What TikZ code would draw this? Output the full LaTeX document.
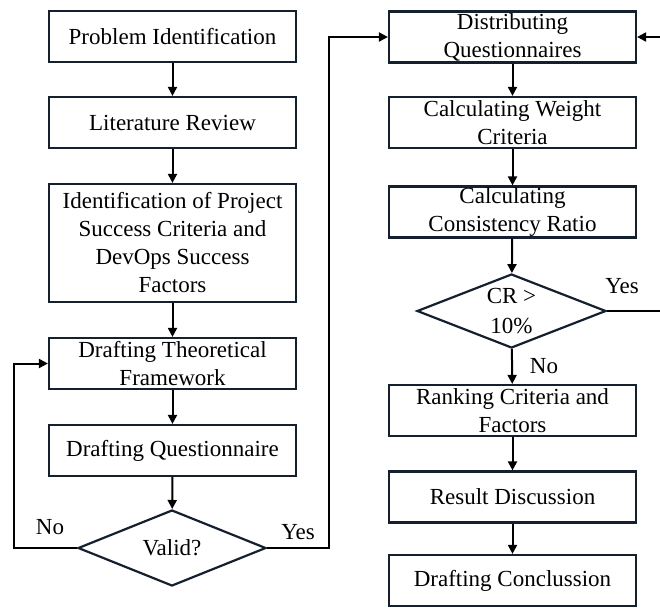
\documentclass[tikz,border=0pt]{standalone}
\usepackage{fontspec}
\setmainfont{Liberation Serif}
\usetikzlibrary{shapes.geometric, arrows.meta, positioning}
\definecolor{boxline}{HTML}{14202E}
\tikzstyle{process} = [
  rectangle,
  minimum width=247pt,
  minimum height=51pt,
  text centered,
  align=center,
  inner sep=0,
  draw=boxline,
  line width=2.2pt,
  font=\fontsize{23}{28}\selectfont
]
\tikzstyle{decision} = [
  diamond,
  minimum width=188pt,
  minimum height=76pt,
  text centered,
  align=center,
  aspect=2.5,
  inner sep=0,
  draw=boxline,
  line width=2.2pt,
  font=\fontsize{23}{30}\selectfont
]
\tikzstyle{answer} = [
  inner sep=0,
  font=\fontsize{23}{28}\selectfont
]
\tikzstyle{arrow} = [
  line width=2pt,
  -{Triangle[length=9pt, width=9pt]}
]

\begin{document}
\begin{tikzpicture}[x=1pt, y=-1pt]
    \useasboundingbox (0,0) rectangle (660,608);

    % left column
    \node (probid) [process] at (172.5,36.5) {Problem Identification};
    \node (litrev) [process] at (172.5,122.5) {Literature Review};
    \node (identif) [process, minimum height=118pt] at (172.5,243) {Identification of Project\\Success Criteria and\\DevOps Success\\Factors};
    \node (theory) [process] at (172.5,363.5) {Drafting Theoretical\\Framework};
    \node (questdraft) [process] at (172.5,450.5) {Drafting Questionnaire};
    \node (valid) [decision] at (172,548) {Valid?};

    % right column
    \node (distrib) [process] at (512.5,37) {Distributing\\Questionnaires};
    \node (weight) [process] at (512.5,122.5) {Calculating Weight\\Criteria};
    \node (consist) [process] at (512.5,212) {Calculating\\Consistency Ratio};
    \node (crcheck) [decision, minimum width=189pt, minimum height=74pt] at (511.5,311) {CR >\\10\%};
    \node (ranking) [process] at (512.5,410.5) {Ranking Criteria and\\Factors};
    \node (discuss) [process] at (512.5,497) {Result Discussion};
    \node (conclude) [process] at (512.5,580.5) {Drafting Conclussion};

    % answers
    \node (validno) [answer] at (50,527) {No};
    \node (validyes) [answer] at (298,532) {Yes};
    \node (cryes) [answer] at (622,286) {Yes};
    \node (crno) [answer] at (544,366) {No};

    \coordinate (noturn) at (14,548);
    \coordinate (yesturn) at (328.5,548);
    \coordinate (crturn) at (668,311);

    \draw [arrow] (probid) -- (litrev);
    \draw [arrow] (litrev) -- (identif);
    \draw [arrow] (identif) -- (theory);
    \draw [arrow] (theory) -- (questdraft);
    \draw [arrow] (questdraft) -- (valid);
    \draw [arrow] (valid.west) -- (noturn) |- (theory.west);
    \draw [arrow] (valid.east) -- (yesturn) |- (distrib.west);

    \draw [arrow] (distrib) -- (weight);
    \draw [arrow] (weight) -- (consist);
    \draw [arrow] (consist) -- (crcheck);
    \draw [arrow] (crcheck) -- (ranking);
    \draw [arrow] (crcheck.east) -- (crturn) |- (distrib.east);
    \draw [arrow] (ranking) -- (discuss);
    \draw [arrow] (discuss) -- (conclude);

  \end{tikzpicture}
\end{document}
